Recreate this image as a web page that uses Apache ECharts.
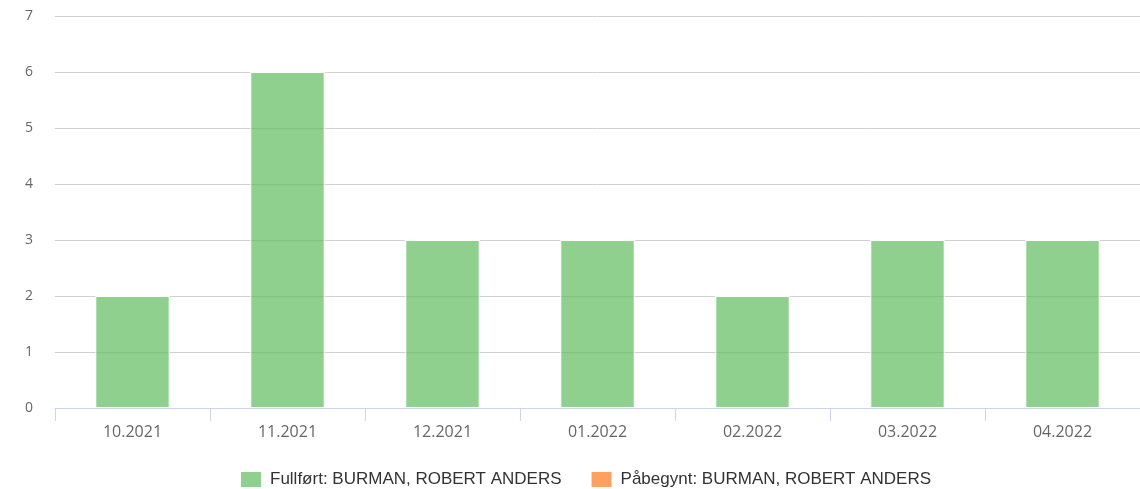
<!DOCTYPE html>
<html><head><meta charset="utf-8">
<script src="https://cdn.jsdelivr.net/npm/echarts@6/dist/echarts.min.js"></script>
<style>html,body{margin:0;padding:0;background:#fff}#c{width:1140px;height:489px}</style>
</head><body><div id="c"></div>
<script>
const categories = ['10.2021','11.2021','12.2021','01.2022','02.2022','03.2022','04.2022'];
const fullfort = [2,6,3,3,2,3,3];
const pabegynt = [0,0,0,0,0,0,0];
const seriesNames = ['Fullført: BURMAN, ROBERT ANDERS','Påbegynt: BURMAN, ROBERT ANDERS'];

const chart = echarts.init(document.getElementById('c'));
chart.setOption({
  animation:false,
  grid:{left:55,right:0,top:16,bottom:81,containLabel:false},
  legend:{
    top:470,left:239,itemWidth:22,itemHeight:17,itemGap:28,padding:0,
    icon:'rect',
    textStyle:{fontFamily:'Liberation Sans',fontSize:17,color:'#333',padding:[0,0,0,3]},
    data:seriesNames
  },
  xAxis:{
    type:'category',data:categories,
    axisLine:{lineStyle:{color:'#ccd6eb'}},
    axisTick:{show:true,length:13,lineStyle:{color:'#ccd6eb'}},
    axisLabel:{fontFamily:'Open Sans',fontSize:16,color:'#666',margin:16}
  },
  yAxis:{
    type:'value',min:0,max:7,interval:1,
    axisLabel:{fontFamily:'Open Sans',fontSize:14,color:'#666',margin:22},
    splitLine:{lineStyle:{color:'#d0d0d0',width:1}},
    axisLine:{show:false},axisTick:{show:false}
  },
  series:[
    {name:seriesNames[0],type:'bar',stack:'a',data:fullfort,barWidth:'48%',z:3,
     itemStyle:{color:'rgba(95,188,95,0.7)',borderColor:'#fff',borderWidth:1}},
    {name:seriesNames[1],type:'bar',stack:'a',data:pabegynt,barWidth:'48%',
     itemStyle:{color:'#ffa060',borderColor:'#fff',borderWidth:1}}
  ]
});
</script></body></html>
